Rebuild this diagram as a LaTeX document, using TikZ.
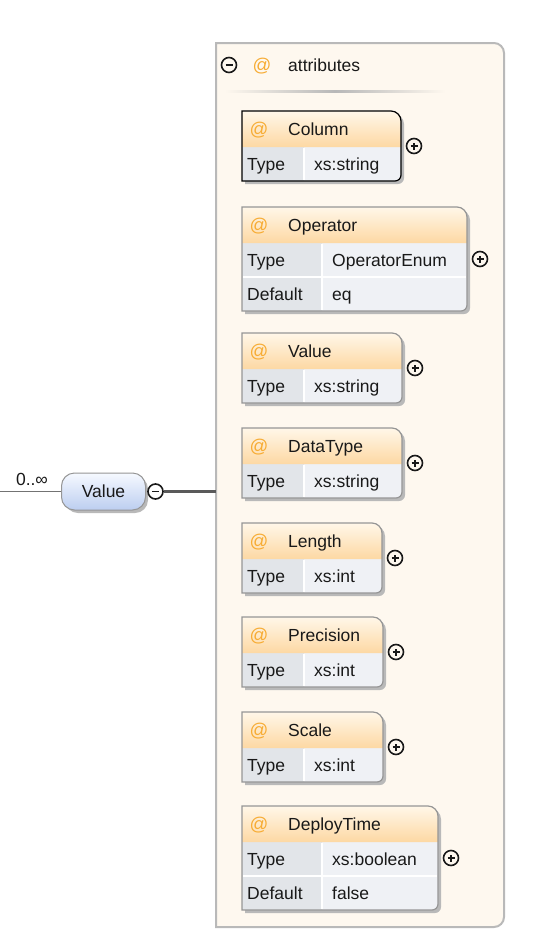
\documentclass[tikz,border=0pt]{standalone}
\usepackage{fontspec}
\setmainfont{Liberation Sans}
\definecolor{panelfill}{RGB}{254,248,239}
\definecolor{panelborder}{RGB}{185,185,185}
\definecolor{hdrtop}{RGB}{255,247,233}
\definecolor{hdrbot}{RGB}{253,216,163}
\definecolor{celldark}{RGB}{226,229,233}
\definecolor{celllight}{RGB}{239,241,245}
\definecolor{boxborder}{RGB}{150,150,150}
\definecolor{shadowc}{RGB}{185,185,185}
\definecolor{atorange}{RGB}{247,172,52}
\definecolor{pilltop}{RGB}{246,249,255}
\definecolor{pillbot}{RGB}{188,206,240}
\definecolor{txt}{RGB}{25,25,25}
\definecolor{linec}{RGB}{90,90,90}

\tikzset{
  txtstyle/.style={font=\fontsize{17.5}{20}\selectfont, text=txt, inner sep=0pt, text height=12.6pt, text depth=0pt},
  lefttxt/.style={txtstyle, anchor=west},
  atsign/.style={txtstyle, text=atorange, anchor=center, font=\fontsize{18.5}{20}\selectfont},
  toggle/.style={circle, draw=black!90, line width=1.6pt, minimum size=15pt, inner sep=0pt},
  plusbtn/.style={toggle, path picture={
      \draw[line width=1.3pt] ([xshift=-3.5pt]path picture bounding box.center) -- ([xshift=3.5pt]path picture bounding box.center)
        ([yshift=-3.5pt]path picture bounding box.center) -- ([yshift=3.5pt]path picture bounding box.center);}},
  minusbtn/.style={toggle, path picture={
      \draw[line width=1.3pt] ([xshift=-3.5pt]path picture bounding box.center) -- ([xshift=3.5pt]path picture bounding box.center);}},
  pill/.style={txtstyle, anchor=center, rounded corners=13pt, draw=boxborder, line width=1pt,
      top color=pilltop, bottom color=pillbot, minimum width=84pt, minimum height=37pt},
}

% #1 id, #2 top, #3 right, #4 title, #5 type, #6 default (may be empty), #7 border colour
\newcommand\abox[7]{%
  \pgfmathsetmacro\Tp{#2}%
  \pgfmathsetmacro\Rt{#3}%
  \ifx\relax#6\relax \def\nr{1}\def\dv{304}\else \def\nr{2}\def\dv{322}\fi
  \pgfmathsetmacro\Bt{\Tp+36+34*\nr}%
  \pgfmathsetmacro\Md{(\Tp+\Bt)/2}%
  % shadow
  \fill[shadowc] (245,\Tp+3) -- (\Rt-7,\Tp+3) .. controls (\Rt-1.5,\Tp+3) and (\Rt+3,\Tp+7.5) .. (\Rt+3,\Tp+13)
     -- (\Rt+3,\Bt-3) .. controls (\Rt+3,\Bt+0.3) and (\Rt+0.3,\Bt+3) .. (\Rt-3,\Bt+3) -- (245,\Bt+3) -- cycle;
  % body
  \fill[celllight] (242,\Tp+36) -- (\Rt,\Tp+36) -- (\Rt,\Bt-6) .. controls (\Rt,\Bt-2.7) and (\Rt-2.7,\Bt) .. (\Rt-6,\Bt) -- (242,\Bt) -- cycle;
  \fill[celldark] (242,\Tp+36) rectangle (\dv,\Bt);
  \shade[top color=hdrtop, bottom color=hdrbot] (242,\Tp) -- (\Rt-10,\Tp) .. controls (\Rt-4.5,\Tp) and (\Rt,\Tp+4.5) .. (\Rt,\Tp+10) -- (\Rt,\Tp+36) -- (242,\Tp+36) -- cycle;
  \draw[white, line width=1.3pt] (\dv,\Tp+36.7) -- (\dv,\Bt-0.7);
  \ifnum\nr=2 \draw[white, line width=1.3pt] (242.7,\Tp+70) -- (\Rt-0.7,\Tp+70);\fi
  \draw[#7, line width=1.2pt] (242,\Tp) -- (\Rt-10,\Tp) .. controls (\Rt-4.5,\Tp) and (\Rt,\Tp+4.5) .. (\Rt,\Tp+10)
     -- (\Rt,\Bt-6) .. controls (\Rt,\Bt-2.7) and (\Rt-2.7,\Bt) .. (\Rt-6,\Bt) -- (242,\Bt) -- cycle;
  % texts
  \node[atsign] (#1-at) at (259,\Tp+18) {@};
  \node[lefttxt] (#1-title) at (288,\Tp+18) {#4};
  \node[lefttxt] (#1-tk) at (247,\Tp+53) {Type};
  \node[lefttxt] (#1-tv) at (\dv+10,\Tp+53) {#5};
  \ifnum\nr=2
    \node[lefttxt] (#1-dk) at (247,\Tp+87) {Default};
    \node[lefttxt] (#1-dv) at (\dv+10,\Tp+87) {#6};
  \fi
  \node[plusbtn] (#1-plus) at (\Rt+13,\Md) {};
}

\begin{document}
\begin{tikzpicture}[x=1pt,y=-1pt]
\useasboundingbox (0,0) rectangle (554,937);
\fill[white] (0,0) rectangle (554,937);

% attributes panel
\filldraw[fill=panelfill, draw=panelborder, line width=2pt]
  (216,43) -- (494,43) .. controls (499.5,43) and (504,47.5) .. (504,53)
  -- (504,917) .. controls (504,922.5) and (499.5,927) .. (494,927) -- (216,927) -- cycle;
\node[minusbtn] (attrminus) at (229,65) {};
\node[atsign] (attrat) at (262,65) {@};
\node[lefttxt] (attrtitle) at (288,65) {attributes};
\shade[left color=panelfill, right color=panelfill, middle color=black!28] (225,90) rectangle (445,92.5);

% attribute boxes
\abox{column}{111}{401}{Column}{xs:string}{}{black}
\abox{operator}{207}{467}{Operator}{OperatorEnum}{eq}{boxborder}
\abox{value}{333}{402}{Value}{xs:string}{}{boxborder}
\abox{datatype}{428}{402}{DataType}{xs:string}{}{boxborder}
\abox{length}{523}{382}{Length}{xs:int}{}{boxborder}
\abox{precision}{617}{383}{Precision}{xs:int}{}{boxborder}
\abox{scale}{712}{383}{Scale}{xs:int}{}{boxborder}
\abox{deploy}{806}{438}{DeployTime}{xs:boolean}{false}{boxborder}

% Value element
\coordinate (start) at (0,491.5);
\coordinate (panelin) at (216,491.5);
\fill[shadowc, rounded corners=13pt] (65,476) rectangle (148,513);
\node[pill] (val) at (103.5,491.5) {Value};
\node[txtstyle, anchor=center] (card) at (32,479) {0..∞};
\draw[black!55, line width=1pt] (start) -- (val.west);
\node[minusbtn] (valminus) at (155.5,491.5) {};
\draw[linec, line width=2.6pt] (valminus.east) -- (panelin);
\end{tikzpicture}
\end{document}
